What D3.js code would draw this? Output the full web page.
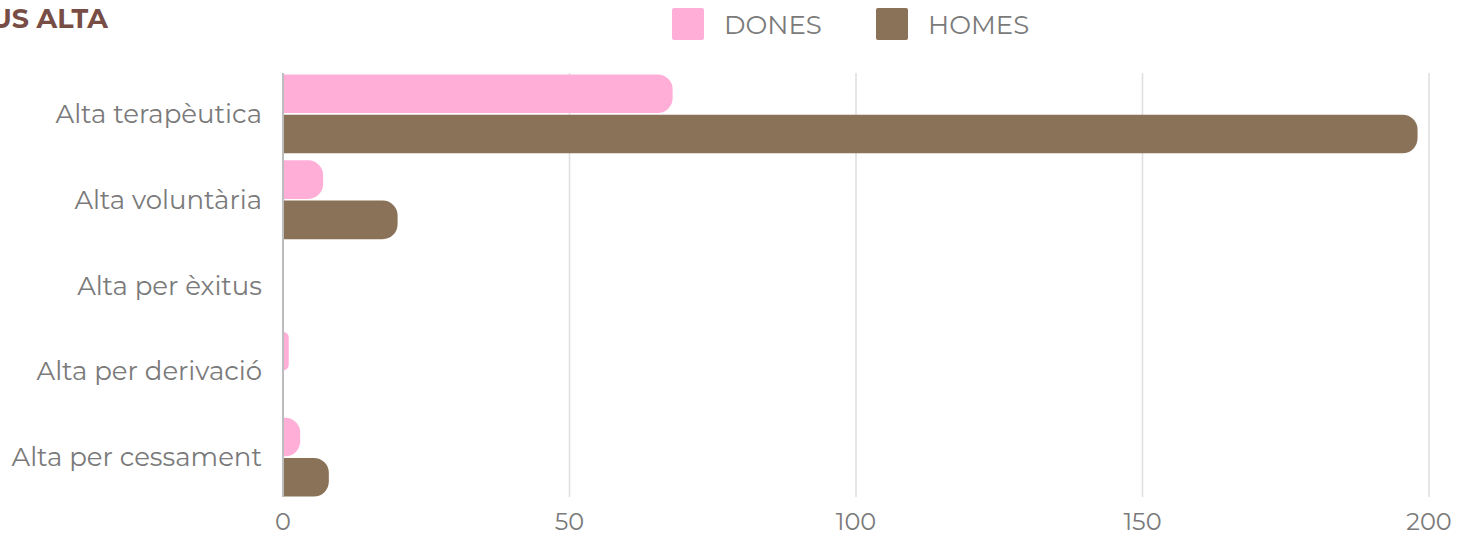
<!DOCTYPE html>
<html>
<head>
<meta charset="utf-8">
<script src="https://cdn.jsdelivr.net/npm/d3@7"></script>
<style>
  body { margin: 0; background: #fff; }
  svg { display: block; }
</style>
</head>
<body>
<svg id="chart" width="1466" height="537"></svg>
<script>
// Data
const categories = ["Alta terapèutica", "Alta voluntària", "Alta per èxitus", "Alta per derivació", "Alta per cessament"];
const seriesNames = ["DONES", "HOMES"];
const dones = [68, 7, 0, 1, 3];
const homes = [198, 20, 0, 0, 8];
const xTicks = [0, 50, 100, 150, 200];

const colors = { DONES: "#ffaed8", HOMES: "#8a7259" };
const fontFamily = "Montserrat, 'DejaVu Sans', sans-serif";

const svg = d3.select("#chart");

// margins of the plotting area
const margin = { left: 283, right: 37, top: 71, bottom: 37 };
const width = 1466 - margin.left - margin.right;
const height = 537 - margin.top - margin.bottom;

const x = d3.scaleLinear().domain([0, 200]).range([0, width]);
const y = d3.scaleBand().domain(categories).range([0, height]).paddingInner(0.08).paddingOuter(0.04);
const ySub = d3.scaleBand().domain(seriesNames).range([0, y.bandwidth()]).paddingInner(0.04);

const g = svg.append("g").attr("transform", "translate(" + margin.left + "," + margin.top + ")");

// grid lines
g.selectAll(".grid")
  .data(xTicks.slice(1))
  .enter()
  .append("line")
  .attr("x1", (d) => x(d))
  .attr("x2", (d) => x(d))
  .attr("y1", 2)
  .attr("y2", height - 3)
  .attr("stroke", "#dedede")
  .attr("stroke-width", 1.5);

// bars with rounded right end
function barPath(w, h) {
  if (w <= 0) return "";
  const r = Math.min(15, w, h / 2);
  return "M0,0H" + (w - r) + "A" + r + "," + r + " 0 0 1 " + w + "," + r +
    "V" + (h - r) + "A" + r + "," + r + " 0 0 1 " + (w - r) + "," + h + "H0Z";
}

const rows = categories.map((c, i) => ({ cat: c, values: [
  { name: "DONES", value: dones[i] },
  { name: "HOMES", value: homes[i] }
] }));

const row = g.selectAll(".row")
  .data(rows)
  .enter()
  .append("g")
  .attr("transform", (d) => "translate(0," + y(d.cat) + ")");

row.selectAll("path")
  .data((d) => d.values)
  .enter()
  .append("path")
  .attr("transform", (d) => "translate(0," + ySub(d.name) + ")")
  .attr("d", (d) => barPath(x(d.value), ySub.bandwidth()))
  .attr("fill", (d) => colors[d.name]);

// y axis line
g.append("line")
  .attr("x1", 0).attr("x2", 0)
  .attr("y1", 2).attr("y2", height - 3)
  .attr("stroke", "#bdbdbd")
  .attr("stroke-width", 2);

// category labels
g.selectAll(".cat")
  .data(categories)
  .enter()
  .append("text")
  .attr("x", -21)
  .attr("y", (d) => y(d) + y.bandwidth() / 2)
  .attr("dy", "0.35em")
  .attr("text-anchor", "end")
  .attr("font-family", fontFamily)
  .attr("font-size", 26)
  .attr("fill", "#7a7a7a")
  .text((d) => d);

// x tick labels
g.selectAll(".tick")
  .data(xTicks)
  .enter()
  .append("text")
  .attr("x", (d) => x(d))
  .attr("y", height + 22)
  .attr("dy", "0.35em")
  .attr("text-anchor", "middle")
  .attr("font-family", fontFamily)
  .attr("font-size", 24)
  .attr("fill", "#7a7a7a")
  .text((d) => d);

// title (cut at left edge)
svg.append("text")
  .attr("x", 108)
  .attr("y", 28)
  .attr("text-anchor", "end")
  .attr("font-family", fontFamily)
  .attr("font-weight", "bold")
  .attr("font-size", 27)
  .attr("fill", "#774d45")
  .text("TIPUS ALTA");

// legend
const legendX = [672, 876];
const legend = svg.selectAll(".legend")
  .data(seriesNames)
  .enter()
  .append("g")
  .attr("transform", (d, i) => "translate(" + legendX[i] + ",8)");

legend.append("rect")
  .attr("width", 32).attr("height", 32)
  .attr("rx", 2)
  .attr("fill", (d) => colors[d]);

legend.append("text")
  .attr("x", 52)
  .attr("y", 17)
  .attr("dy", "0.35em")
  .attr("font-family", fontFamily)
  .attr("font-size", 26)
  .attr("fill", "#7a7a7a")
  .text((d) => d);
</script>
</body>
</html>
